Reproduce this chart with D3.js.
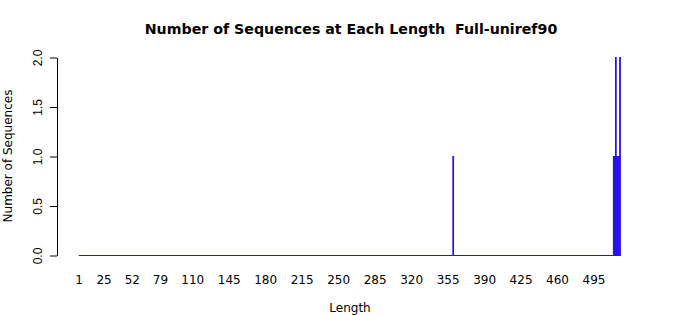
<!DOCTYPE html>
<html>
<head>
<meta charset="utf-8">
<script src="https://cdn.jsdelivr.net/npm/d3@7"></script>
<style>
  body { margin: 0; background: #fff; }
  svg { display: block; font-family: "DejaVu Sans", sans-serif; }
</style>
</head>
<body>
<svg id="chart" width="700" height="315"></svg>
<script>
// lengths that have at least one sequence, and how many
const seqLengths = [360, 514, 515, 516, 517, 518, 519, 520];
const seqCounts = [1, 1, 1, 2, 1, 1, 1, 2];
const maxLength = 520;
const xTickLabels = [1, 25, 52, 79, 110, 145, 180, 215, 250, 285, 320, 355, 390, 425, 460, 495];
const yTicks = [0, 0.5, 1, 1.5, 2];

// full table, one entry per length (zeros where nothing was seen)
const table = d3.range(1, maxLength + 1).map(len => {
  const k = seqLengths.indexOf(len);
  return { len: len, n: k < 0 ? 0 : seqCounts[k] };
});

const svg = d3.select('#chart');
const barColor = '#2a10f0';

// barplot layout: width 1, space 0.2 -> bar i spans [1.2i-1, 1.2i-0.2]
const left = 0.2, right = 1.2 * maxLength;
const pad = (right - left) * 0.04;
const x = d3.scaleLinear().domain([left - pad, right + pad]).range([57, 642.2]);
const y = d3.scaleLinear().domain([0, 2]).range([255.5, 57.5]);

// empty bars only leave their border on the baseline
svg.append('line')
  .attr('x1', x(left)).attr('x2', x(right))
  .attr('y1', y(0)).attr('y2', y(0))
  .attr('stroke', barColor)
  .attr('stroke-width', 1);

svg.append('g').selectAll('rect')
  .data(table.filter(d => d.n > 0))
  .join('rect')
  .attr('x', d => x(1.2 * d.len - 1))
  .attr('width', d => x(1.2 * d.len - 0.2) - x(1.2 * d.len - 1))
  .attr('y', d => y(d.n))
  .attr('height', d => y(0) - y(d.n))
  .attr('fill', barColor)
  .attr('stroke', barColor)
  .attr('stroke-width', 1);

// y axis
const yAxis = svg.append('g')
  .attr('transform', 'translate(57,0)')
  .call(d3.axisLeft(y).tickValues(yTicks).tickFormat(d3.format('.1f')).tickSize(7).tickSizeOuter(0));
yAxis.select('.domain').attr('stroke', '#000');
yAxis.selectAll('.tick line').attr('stroke', '#000');
yAxis.selectAll('.tick text')
  .attr('font-size', 12)
  .attr('fill', '#000')
  .attr('x', null).attr('dy', null)
  .attr('text-anchor', 'middle')
  .attr('transform', 'translate(-15,0) rotate(-90)');

// x labels at bar centres, no axis line
svg.append('g').selectAll('text')
  .data(xTickLabels)
  .join('text')
  .attr('x', d => x(1.2 * d - 0.5))
  .attr('y', 284)
  .attr('text-anchor', 'middle')
  .attr('font-size', 12)
  .text(d => d);

// titles
svg.append('text')
  .attr('x', 351).attr('y', 34)
  .attr('text-anchor', 'middle')
  .attr('font-size', 14.2)
  .attr('font-weight', 'bold')
  .style('white-space', 'pre')
  .text('Number of Sequences at Each Length  Full-uniref90');

svg.append('text')
  .attr('x', 350).attr('y', 312)
  .attr('text-anchor', 'middle')
  .attr('font-size', 12)
  .text('Length');

svg.append('text')
  .attr('transform', 'translate(12,156) rotate(-90)')
  .attr('text-anchor', 'middle')
  .attr('font-size', 12)
  .text('Number of Sequences');
</script>
</body>
</html>
